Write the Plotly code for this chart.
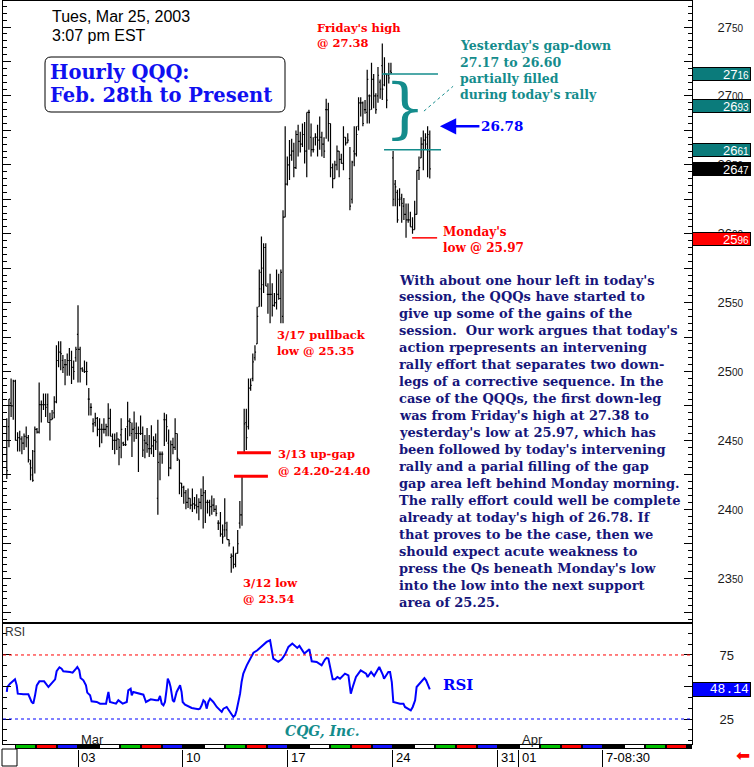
import plotly.graph_objects as go
import pandas as pd

# ---------------- data (hourly QQQ, price x100) ----------------
bar_open = [
    2460, 2460, 2477, 2475, 2493, 2450, 2452, 2451, 2448, 2453,
    2452, 2433, 2425, 2442, 2458, 2456, 2476, 2476, 2476, 2476,
    2463, 2465, 2470, 2478, 2508, 2514, 2508, 2505, 2505, 2508,
    2508, 2503, 2510, 2527, 2516, 2502, 2501, 2500, 2480, 2474,
    2462, 2463, 2466, 2458, 2458, 2458, 2458, 2460, 2466, 2453,
    2450, 2450, 2451, 2454, 2448, 2447, 2460, 2464, 2455, 2458,
    2455, 2455, 2455, 2455, 2450, 2448, 2444, 2444, 2446, 2450,
    2408, 2440, 2440, 2465, 2465, 2448, 2430, 2447, 2445, 2455,
    2436, 2419, 2416, 2412, 2405, 2408, 2403, 2404, 2403, 2402,
    2405, 2410, 2412, 2405, 2405, 2402, 2403, 2400, 2390, 2390,
    2382, 2385, 2385, 2378, 2365, 2366, 2360, 2368, 2390, 2396,
    2441, 2463, 2460, 2488, 2495, 2510, 2520, 2547, 2572, 2575,
    2590, 2556, 2556, 2556, 2548, 2550, 2556, 2553, 2540, 2612,
    2636, 2650, 2657, 2660, 2648, 2672, 2667, 2665, 2672, 2660,
    2688, 2670, 2661, 2670, 2670, 2668, 2670, 2665, 2690, 2690,
    2680, 2648, 2640, 2650, 2660, 2654, 2651, 2670, 2666, 2640,
    2625, 2660, 2658, 2678, 2695, 2695, 2690, 2688, 2700, 2700,
    2712, 2700, 2700, 2710, 2722, 2708, 2716, 2715, 2718,
    2655, 2636, 2630, 2625, 2626, 2620, 2614, 2610, 2610,
    2605, 2603, 2614, 2646, 2655, 2665, 2668, 2670, 2660,
]
bar_high = [
    2466, 2480, 2495, 2494, 2494, 2456, 2457, 2453, 2455, 2460,
    2454, 2436, 2443, 2460, 2459, 2492, 2479, 2484, 2484, 2484,
    2470, 2472, 2482, 2519, 2522, 2522, 2512, 2509, 2513, 2517,
    2515, 2508, 2518, 2548, 2518, 2503, 2508, 2507, 2488, 2477,
    2466, 2470, 2467, 2466, 2462, 2466, 2462, 2477, 2473, 2455,
    2455, 2456, 2451, 2466, 2449, 2459, 2478, 2466, 2463, 2471,
    2463, 2460, 2468, 2460, 2454, 2459, 2454, 2461, 2453, 2455,
    2465, 2442, 2442, 2470, 2469, 2458, 2450, 2452, 2466, 2455,
    2436, 2419, 2417, 2414, 2415, 2408, 2415, 2409, 2411, 2408,
    2415, 2424, 2414, 2407, 2407, 2410, 2408, 2403, 2392, 2398,
    2389, 2408, 2391, 2378, 2368, 2373, 2368, 2385, 2406, 2424,
    2473, 2473, 2495, 2495, 2513, 2519, 2547, 2574, 2598, 2593,
    2593, 2564, 2571, 2564, 2557, 2574, 2571, 2574, 2617, 2678,
    2656, 2668, 2669, 2666, 2675, 2679, 2674, 2680, 2681, 2688,
    2690, 2680, 2670, 2673, 2679, 2685, 2674, 2670, 2698, 2695,
    2680, 2651, 2653, 2664, 2660, 2658, 2678, 2670, 2673, 2663,
    2653, 2678, 2678, 2699, 2699, 2696, 2697, 2719, 2701, 2724,
    2716, 2702, 2721, 2712, 2738, 2728, 2716, 2724, 2724,
    2660, 2639, 2632, 2633, 2629, 2626, 2622, 2622, 2616,
    2612, 2624, 2646, 2656, 2670, 2675, 2673, 2678, 2675,
]
bar_low = [
    2422, 2445, 2467, 2465, 2450, 2442, 2442, 2440, 2443, 2445,
    2434, 2421, 2420, 2426, 2455, 2455, 2463, 2472, 2467, 2463,
    2450, 2465, 2466, 2477, 2503, 2501, 2499, 2490, 2497, 2497,
    2491, 2494, 2507, 2492, 2492, 2500, 2499, 2490, 2468, 2468,
    2456, 2460, 2453, 2445, 2448, 2455, 2453, 2453, 2453, 2443,
    2440, 2443, 2432, 2437, 2446, 2446, 2450, 2453, 2438, 2449,
    2451, 2427, 2454, 2438, 2437, 2441, 2438, 2440, 2438, 2443,
    2396, 2421, 2433, 2446, 2449, 2424, 2429, 2440, 2443, 2435,
    2411, 2409, 2404, 2400, 2401, 2400, 2398, 2400, 2397, 2392,
    2400, 2386, 2390, 2397, 2395, 2396, 2398, 2395, 2385, 2380,
    2375, 2380, 2378, 2373, 2354, 2357, 2358, 2368, 2386, 2388,
    2441, 2443, 2458, 2486, 2493, 2508, 2520, 2547, 2547, 2557,
    2562, 2542, 2535, 2540, 2547, 2545, 2552, 2535, 2535, 2612,
    2635, 2639, 2653, 2641, 2647, 2656, 2659, 2663, 2651, 2641,
    2661, 2656, 2659, 2664, 2656, 2661, 2656, 2655, 2669, 2667,
    2641, 2633, 2640, 2646, 2641, 2651, 2646, 2664, 2666, 2617,
    2622, 2649, 2656, 2675, 2685, 2678, 2687, 2680, 2680, 2690,
    2691, 2687, 2695, 2698, 2697, 2707, 2691, 2709, 2716,
    2620, 2620, 2608, 2620, 2608, 2610, 2597, 2608, 2605,
    2600, 2603, 2614, 2639, 2655, 2646, 2661, 2641, 2640,
]
bar_close = [
    2428, 2480, 2475, 2493, 2450, 2452, 2451, 2448, 2453, 2452,
    2436, 2430, 2421, 2458, 2456, 2476, 2476, 2476, 2474, 2463,
    2465, 2466, 2478, 2508, 2514, 2513, 2503, 2505, 2508, 2508,
    2503, 2500, 2516, 2516, 2502, 2500, 2500, 2500, 2480, 2474,
    2462, 2466, 2458, 2458, 2458, 2458, 2460, 2466, 2453, 2450,
    2450, 2451, 2445, 2458, 2447, 2447, 2464, 2463, 2458, 2459,
    2455, 2455, 2455, 2443, 2448, 2447, 2444, 2446, 2450, 2449,
    2434, 2440, 2440, 2465, 2460, 2430, 2447, 2445, 2455, 2437,
    2419, 2416, 2412, 2405, 2408, 2403, 2404, 2403, 2402, 2405,
    2410, 2412, 2405, 2405, 2402, 2403, 2400, 2397, 2390, 2382,
    2380, 2390, 2378, 2375, 2366, 2360, 2368, 2375, 2396, 2424,
    2462, 2452, 2488, 2490, 2507, 2514, 2540, 2560, 2563, 2590,
    2562, 2556, 2556, 2548, 2550, 2556, 2553, 2572, 2612, 2636,
    2650, 2657, 2660, 2648, 2672, 2667, 2665, 2672, 2660, 2688,
    2688, 2661, 2661, 2670, 2668, 2670, 2665, 2660, 2690, 2680,
    2648, 2640, 2650, 2660, 2654, 2651, 2670, 2666, 2668, 2620,
    2652, 2658, 2672, 2695, 2695, 2680, 2690, 2712, 2690, 2712,
    2700, 2690, 2715, 2705, 2705, 2716, 2697, 2713, 2717,
    2625, 2634, 2610, 2625, 2622, 2614, 2610, 2610, 2605,
    2603, 2614, 2646, 2648, 2665, 2668, 2665, 2672, 2647,
]
bar_index = list(range(len(bar_open)))

# RSI readings (position in bar units, value)
rsi_pos = [
    0, 0.3, 1.5, 2.6, 3.8, 4.6, 5.1, 7.7, 10.0, 11.5,
    12.3, 13.1, 13.9, 15.1, 17.3, 19.3, 21.6, 22.4, 23.1, 24.4,
    25.4, 26.2, 29.3, 30.5, 32.1, 32.7, 33.6, 34.2, 35.5, 36.7,
    37.3, 38.6, 39.3, 41.7, 43.2, 46.0, 46.6, 47.1, 47.8, 50.6,
    51.7, 52.5, 53.7, 55.6, 56.3, 57.4, 57.9, 58.6, 61.7, 63.3,
    64.5, 66.7, 69.2, 70.2, 71.0, 71.8, 72.6, 73.3, 74.1, 74.6,
    75.3, 75.9, 76.9, 77.5, 78.7, 80.3, 81.0, 81.5, 82.6, 85.7,
    88.8, 89.5, 90.3, 91.1, 91.9, 92.6, 93.4, 94.2, 95.7, 97.3,
    99.6, 100.4, 101.9, 103.4, 105.0, 105.8, 106.5, 107.3, 108.1, 108.8,
    109.6, 111.2, 112.7, 114.3, 116.1, 118.1, 120.4, 122.0, 122.7, 123.5,
    125.8, 127.4, 128.9, 130.5, 132.3, 133.9, 134.6, 135.6, 137.1, 137.9,
    140.2, 140.8, 141.3, 143.6, 145.1, 145.9, 147.5, 148.2, 149.0, 149.5,
    150.1, 151.0, 152.1, 153.2, 154.4, 156.7, 158.3, 158.7, 159.4, 160.3,
    161.8, 164.0, 166.5, 167.2, 168.8, 170.2, 172.6, 174.2, 174.8, 176.8,
    177.6, 178.4, 179.1, 182.2, 183.8, 184.5, 187.2, 188.1, 189.2, 189.9,
    191.8, 193.5, 194.3, 196.0,
]
rsi_val = [
    46.1, 50.0, 52.6, 53.9, 56.0, 51.3, 44.8, 44.3, 44.3, 38.3,
    37.0, 43.5, 51.3, 54.4, 54.4, 50.0, 53.9, 56.0, 62.3, 65.4,
    64.3, 62.3, 61.7, 61.2, 64.3, 65.6, 63.0, 57.0, 55.2, 51.3,
    45.6, 43.5, 38.8, 38.3, 37.0, 37.0, 42.2, 46.1, 38.3, 37.0,
    39.6, 38.3, 37.0, 38.3, 47.4, 48.7, 43.5, 46.1, 44.8, 44.0,
    38.3, 40.4, 39.6, 39.6, 43.0, 37.0, 35.7, 38.3, 48.7, 56.5,
    53.9, 50.0, 39.6, 38.3, 46.1, 51.3, 46.1, 38.3, 36.2, 33.6,
    32.6, 33.1, 35.7, 39.6, 38.3, 33.1, 38.3, 40.9, 38.3, 34.4,
    30.5, 33.1, 34.4, 30.5, 26.6, 27.9, 31.8, 38.3, 44.8, 53.9,
    60.4, 66.9, 72.2, 76.8, 78.7, 82.0, 85.2, 86.5, 78.7, 72.2,
    69.6, 71.6, 75.3, 81.3, 83.9, 81.3, 80.5, 82.1, 78.7, 76.1,
    79.5, 74.8, 70.1, 69.6, 68.2, 66.9, 71.6, 72.7, 72.2, 68.2,
    62.3, 56.0, 56.0, 57.8, 56.5, 60.4, 59.1, 53.9, 44.8, 50.0,
    57.8, 63.0, 60.4, 57.8, 61.7, 58.6, 65.6, 59.7, 56.5, 61.7,
    61.7, 53.9, 38.3, 37.0, 37.0, 34.4, 31.8, 34.4, 39.6, 50.0,
    53.9, 57.0, 55.2, 48.1,
]
rsi_last = 48.14
rsi_levels = [75, 25]

# right-edge price flags
level_vals = [2716, 2693, 2661, 2647, 2596]
level_cols = ["#0b7b7b", "#0b7b7b", "#0b7b7b", "#000000", "#ff0000"]

# chart notes (price levels)
gap_top, gap_bottom = 2716, 2661
monday_low = 2597
upgap_hi, upgap_lo = 2441, 2424
today_high = 2678

# calendar
trade_days = pd.bdate_range("2003-02-26", "2003-04-10")
first_monday = pd.Timestamp("2003-03-03")
bar_of_first_monday = 33
bars_per_day = 9.73
weekday_colors = {0: "#000000", 1: "#ffffff", 2: "#00c000", 3: "#ff0000", 4: "#1010ff"}
date_ticks = ["2003-03-03", "2003-03-10", "2003-03-17", "2003-03-24",
              "2003-03-31", "2003-04-01", "2003-04-07"]
date_tick_labels = ["03", "10", "17", "24", "31", "01", "7-08:30"]
month_labels = [("2003-03-03", "Mar"), ("2003-04-01", "Apr")]

paragraph = [
    "With about one hour left in today's",
    "session, the QQQs have started to",
    "give up some of the gains of the",
    "session.  Our work argues that today's",
    "action rpepresents an intervening",
    "rally effort that separates two down-",
    "legs of a corrective sequence. In the",
    "case of the QQQs, the first down-leg",
    "was from Friday's high at 27.38 to",
    "yesterday's low at 25.97, which has",
    "been followed by today's intervening",
    "rally and a parial filling of the gap",
    "gap area left behind Monday morning.",
    "The rally effort could well be complete",
    "already at today's high of 26.78. If",
    "that proves to be the case, then we",
    "should expect acute weakness to",
    "press the Qs beneath Monday's low",
    "into the low into the next support",
    "area of 25.25.",
]

# ---------------- geometry helpers ----------------
W, H = 754, 767
ML, MR = 3, 62
PW = W - ML - MR


def px(x):
    return (x - ML) / PW


def py(y):
    return 1 - y / H


pos_m03 = list(trade_days).index(first_monday)


def day_pos(d):
    return bar_of_first_monday + (list(trade_days).index(pd.Timestamp(d)) - pos_m03) * bars_per_day


XR = [-1.75, 317.5]
SERIF = "DejaVu Serif"
SANS = "Liberation Sans, Arial"
RED = "#ff0000"
TEAL = "#148c8c"
NAVY = "#16167a"

fig = go.Figure()

fig.add_trace(go.Ohlc(
    x=bar_index, open=bar_open, high=bar_high, low=bar_low, close=bar_close,
    increasing=dict(line=dict(color="black", width=1.2)),
    decreasing=dict(line=dict(color="black", width=1.2)),
    tickwidth=0.5, xaxis="x", yaxis="y", showlegend=False, hoverinfo="skip"))

fig.add_trace(go.Scatter(
    x=rsi_pos, y=rsi_val, mode="lines", line=dict(color="#0000ff", width=2),
    xaxis="x2", yaxis="y2", showlegend=False, hoverinfo="skip"))

day_centers = [day_pos(d) + bars_per_day / 2 for d in trade_days]
day_cols = [weekday_colors[d.weekday()] for d in trade_days]
fig.add_trace(go.Bar(
    x=day_centers, y=[0.7] * len(day_centers), base=0.15, width=bars_per_day - 0.9,
    marker=dict(color=day_cols, line=dict(width=0)),
    xaxis="x3", yaxis="y3", showlegend=False, hoverinfo="skip"))

price_ticks = list(range(2325, 2751, 25))
price_text = [f"{v // 100}<span style='font-size:10px'>{v % 100:02d}</span>" if v % 50 == 0 else ""
              for v in price_ticks]

axis_common = dict(showgrid=False, zeroline=False, fixedrange=True)

fig.update_layout(
    width=W, height=H,
    margin=dict(l=ML, r=MR, t=0, b=0),
    paper_bgcolor="white", plot_bgcolor="white",
    showlegend=False, bargap=0,
    xaxis=dict(domain=[0, 1], range=XR, anchor="y", showticklabels=False, ticks="",
               showline=True, linecolor="black", linewidth=2, mirror=True,
               rangeslider=dict(visible=False), **axis_common),
    yaxis=dict(domain=[py(622), py(1)], range=[2318.2, 2768.9], anchor="x", side="right",
               tickmode="array", tickvals=price_ticks, ticktext=price_text,
               ticks="inside", ticklen=8, tickcolor="black", tickwidth=1,
               minor=dict(dtick=5, tick0=2325, ticks="inside", ticklen=4, tickcolor="black"),
               showline=True, linecolor="black", linewidth=1, mirror="ticks",
               tickfont=dict(family=SANS, size=13, color="#1a1a1a"),
               ticklabelstandoff=22, **axis_common),
    xaxis2=dict(domain=[0, 1], range=XR, anchor="y2", showticklabels=False, ticks="",
                showline=True, linecolor="black", linewidth=1, mirror=True, **axis_common),
    yaxis2=dict(domain=[py(744), py(624)], range=[5.47, 99.2], anchor="x2", side="right",
                tickmode="array", tickvals=[25, 50, 75], ticktext=["25", "", "75"],
                ticks="inside", ticklen=8, tickcolor="black",
                minor=dict(dtick=50 / 6, tick0=25, ticks="inside", ticklen=4, tickcolor="black"),
                showline=True, linecolor="black", linewidth=1, mirror="ticks",
                tickfont=dict(family=SANS, size=13, color="#1a1a1a"),
                ticklabelstandoff=24, **axis_common),
    xaxis3=dict(domain=[0, 1], range=XR, anchor="y3", showticklabels=False,
                tickmode="array", tickvals=[day_pos(d) for d in date_ticks],
                ticks="outside", ticklen=18, tickcolor="black", tickwidth=1,
                showline=False, **axis_common),
    yaxis3=dict(domain=[py(749), py(744)], range=[0, 1], anchor="x3", visible=False, **axis_common),
)

shapes = []
# stripe background
shapes.append(dict(type="rect", xref="x3", yref="y3 domain", x0=day_pos(trade_days[0]), x1=XR[1],
                   y0=0, y1=1, fillcolor="black", line=dict(width=0), layer="below"))
# RSI levels
for lv, col in zip(rsi_levels, [RED, "#0000ff"]):
    shapes.append(dict(type="line", xref="x2 domain", yref="y2", x0=0, x1=1, y0=lv, y1=lv,
                       line=dict(color=col, width=1, dash="3px,3px")))
# gap lines
shapes.append(dict(type="line", xref="x", yref="y", x0=173.9, x1=199.8, y0=gap_top, y1=gap_top,
                   line=dict(color=TEAL, width=1.5)))
shapes.append(dict(type="line", xref="x", yref="y", x0=174.8, x1=201.2, y0=gap_bottom, y1=gap_bottom,
                   line=dict(color=TEAL, width=1.5)))
shapes.append(dict(type="line", xref="x", yref="y", x0=193.3, x1=206.8, y0=2689, y1=2707,
                   line=dict(color=TEAL, width=1, dash="dot")))
shapes.append(dict(type="line", xref="x", yref="y", x0=187.8, x1=199.4, y0=monday_low, y1=monday_low,
                   line=dict(color=RED, width=1.5)))
shapes.append(dict(type="line", xref="x", yref="y", x0=106.7, x1=122.4, y0=upgap_hi, y1=upgap_hi,
                   line=dict(color=RED, width=3)))
shapes.append(dict(type="line", xref="x", yref="y", x0=105.3, x1=121.0, y0=upgap_lo, y1=upgap_lo,
                   line=dict(color=RED, width=3)))


# rounded title box
def rrect(x0, y0, x1, y1, r):
    X0, X1, Y0, Y1 = px(x0), px(x1), py(y0), py(y1)
    rx, ry = r / PW, r / H
    return (f"M {X0 + rx},{Y0} L {X1 - rx},{Y0} Q {X1},{Y0} {X1},{Y0 - ry} "
            f"L {X1},{Y1 + ry} Q {X1},{Y1} {X1 - rx},{Y1} L {X0 + rx},{Y1} "
            f"Q {X0},{Y1} {X0},{Y1 + ry} L {X0},{Y0 - ry} Q {X0},{Y0} {X0 + rx},{Y0} Z")


shapes.append(dict(type="path", xref="paper", yref="paper", path=rrect(45, 57, 285, 112, 6),
                   line=dict(color="black", width=1), fillcolor="rgba(0,0,0,0)"))
# bottom-left box
shapes.append(dict(type="rect", xref="paper", yref="paper", x0=px(2), x1=px(17), y0=py(766), y1=py(749),
                   line=dict(color="black", width=1), fillcolor="white"))
fig.update_layout(shapes=shapes)

ann = []


def txt(text, x, y, size, color, family=SERIF, bold=True, italic=False, xanchor="left", **kw):
    t = text
    if bold:
        t = f"<b>{t}</b>"
    if italic:
        t = f"<i>{t}</i>"
    ann.append(dict(text=t, x=px(x), y=py(y), xref="paper", yref="paper", xanchor=xanchor,
                    yanchor="middle", showarrow=False,
                    font=dict(family=family, size=size, color=color), **kw))


def block(lines, x, y0, dy, size, color, **kw):
    for i, s in enumerate(lines):
        txt(s, x, y0 + i * dy, size, color, **kw)


block(["Tues, Mar 25, 2003", "3:07 pm EST"], 50, 17, 19, 16, "black", family=SANS, bold=False)
block(["Hourly QQQ:", "Feb. 28th to Present"], 48, 73, 23, 19.5, "#1010f0")
block(["Friday's high", "@ 27.38"], 315, 28, 14.5, 11.5, RED)
block(["Yesterday's gap-down", "27.17 to 26.60", "partially filled", "during today's rally"],
      458, 46, 16.1, 12.5, TEAL)
block(["Monday's", "low @ 25.97"], 441, 232, 15.7, 12, RED)
block(["3/17 pullback", "low @ 25.35"], 275, 335, 16, 11.5, RED)
block(["3/13 up-gap", "@ 24.20-24.40"], 276, 454, 16.5, 11.5, RED)
block(["3/12 low", "@ 23.54"], 241, 583, 15.5, 11.5, RED)
block(paragraph, 397, 280, 16.95, 13, NAVY)
txt("}", 405, 107, 66, TEAL, bold=False, xanchor="center")
txt("RSI", 458, 685, 15, "#0000ff", xanchor="center")
txt("CQG, Inc.", 322, 731, 14, TEAL, italic=True, xanchor="center")
txt("RSI", 3, 632, 12, "#333333", family=SANS, bold=False)
txt("\u2b05", 743, 755, 17, RED, family="DejaVu Sans", bold=False, xanchor="center")

# arrow to today's high
ann.append(dict(text="<b>26.78</b>", x=200.7, y=today_high, xref="x", yref="y",
                ax=62, ay=0, showarrow=True, arrowhead=2, arrowsize=1.3, arrowwidth=2.5,
                arrowcolor="#0000ff", font=dict(family=SERIF, size=13.5, color="#0000ff")))

# right-edge flags
for v, c in zip(level_vals, level_cols):
    ann.append(dict(text=f"{v // 100}<span style='font-size:10px'>{v % 100:02d}</span>",
                    x=1, y=v, xref="paper", yref="y", xanchor="left", yanchor="middle",
                    showarrow=False, width=55, height=10, align="right", bgcolor=c,
                    bordercolor="black", borderwidth=1, borderpad=1,
                    font=dict(family=SANS, size=13, color="white")))
ann.append(dict(text=f"{rsi_last:.2f}", x=1, y=rsi_last, xref="paper", yref="y2", xanchor="left",
                yanchor="middle", showarrow=False, width=55, height=11, align="right",
                bgcolor="#0000ff", bordercolor="black", borderwidth=1, borderpad=1,
                font=dict(family="Liberation Mono", size=13, color="white")))

# date labels
for d, lab in zip(date_ticks, date_tick_labels):
    ann.append(dict(text=lab, x=day_pos(d), y=py(757), xref="x3", yref="paper", xanchor="left",
                    yanchor="middle", xshift=1, showarrow=False,
                    font=dict(family=SANS, size=13, color="black")))
for d, lab in month_labels:
    ann.append(dict(text=lab, x=day_pos(d), y=py(739), xref="x2", yref="paper", xanchor="left",
                    yanchor="middle", xshift=1, showarrow=False,
                    font=dict(family=SANS, size=13, color="#222222")))

fig.update_layout(annotations=ann)

fig.write_html("out.html", config={"displayModeBar": False},
               post_script="document.body.style.margin='0px';document.body.style.overflow='hidden';")
